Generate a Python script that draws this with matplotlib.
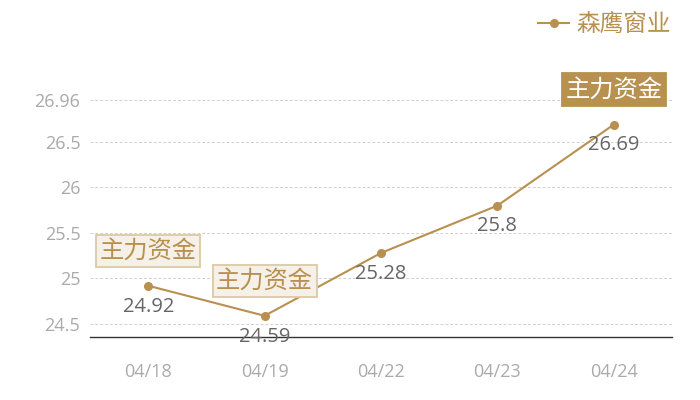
import matplotlib
matplotlib.use("Agg")
import matplotlib.pyplot as plt

plt.rcParams["font.family"] = ["Open Sans", "Noto Sans CJK SC", "DejaVu Sans"]

# data
dates = ["04/18", "04/19", "04/22", "04/23", "04/24"]
prices = [24.92, 24.59, 25.28, 25.8, 26.69]
series_name = "森鹰窗业"
tag_text = "主力资金"
tag_light_idx = [0, 1]
tag_dark_idx = [4]
y_ticks = [24.5, 25, 25.5, 26, 26.5, 26.96]
y_tick_labels = ["24.5", "25", "25.5", "26", "26.5", "26.96"]
y_range = (24.357, 26.96)

GOLD = "#b8904f"
GRID = "#d0d0d0"
TICK = "#aaaaaa"
LABEL = "#666666"
CJK = ["Noto Sans CJK SC", "DejaVu Sans"]

fig = plt.figure(figsize=(7, 4), dpi=100)
ax = fig.add_axes([90 / 700, 63 / 400, 582 / 700, 237 / 400])

x = list(range(len(dates)))
ax.plot(x, prices, color=GOLD, lw=1.5, marker="o", ms=5.5, label=series_name, zorder=3)

ax.set_xlim(-0.5, len(dates) - 0.5)
ax.set_ylim(*y_range)
ax.set_xticks(x)
ax.set_xticklabels(dates)
ax.set_yticks(y_ticks)
ax.set_yticklabels(y_tick_labels)
ax.tick_params(axis="x", length=0, pad=19, labelsize=13, labelcolor=TICK)
ax.tick_params(axis="y", length=0, pad=7, labelsize=13, labelcolor=TICK)

ax.yaxis.grid(True, color=GRID, ls=(0, (3, 2)), lw=0.7)
ax.set_axisbelow(True)
for side in ["top", "right", "left"]:
    ax.spines[side].set_visible(False)
ax.spines["bottom"].set_color("#333333")
ax.spines["bottom"].set_linewidth(1.0)

# value labels under each point
for xi, v in zip(x, prices):
    ax.annotate(f"{v:g}", (xi, v), xytext=(0, -15), textcoords="offset points",
                ha="center", va="center", fontsize=14.5, color=LABEL, zorder=4)

# fund-flow tags above points
for i in tag_light_idx:
    ax.annotate(tag_text, (x[i], prices[i]), xytext=(0, 25), textcoords="offset points",
                ha="center", va="center", fontsize=17.5, color=GOLD, zorder=5, family=CJK,
                bbox=dict(boxstyle="square,pad=0.14", fc="#f5f0e8", ec="#dcc9a4", lw=1.3))
for i in tag_dark_idx:
    ax.annotate(tag_text, (x[i], prices[i]), xytext=(0, 25), textcoords="offset points",
                ha="center", va="center", fontsize=17.5, color="white", zorder=5, family=CJK,
                bbox=dict(boxstyle="square,pad=0.14", fc=GOLD, ec=GOLD, lw=1.3))

leg = fig.legend(loc="upper right", bbox_to_anchor=(0.985, 1.015), frameon=False,
                 handlelength=1.3, handletextpad=0.3, borderpad=0.3,
                 prop={"family": CJK, "size": 17})
for t in leg.get_texts():
    t.set_color(GOLD)

fig.savefig("out.png", dpi=100)
